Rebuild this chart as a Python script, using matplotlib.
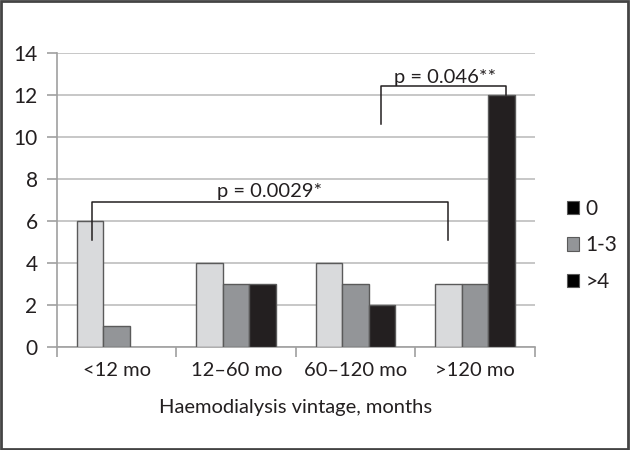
import matplotlib
matplotlib.use('Agg')
import matplotlib.pyplot as plt
import matplotlib.patches as mpatches
import numpy as np

categories = ['<12 mo', '12\u201360 mo', '60\u2013120 mo', '>120 mo']
series_names = ['0', '1-3', '>4']
vals_0 = [6, 4, 4, 3]
vals_13 = [1, 3, 3, 3]
vals_4 = [0, 3, 2, 12]

colors = ['#d9dadc', '#939598', '#231f20']
legend_colors = ['#000000', '#939598', '#000000']

plt.rcParams['font.family'] = ['Lato', 'DejaVu Sans']

fig = plt.figure(figsize=(6.3, 4.5), dpi=100)
ax = fig.add_axes([0.0905, 0.229, 0.7585, 0.653])

x = np.arange(len(categories))
w = 0.222
for i, (vals, c) in enumerate(zip([vals_0, vals_13, vals_4], colors)):
    v = np.array(vals, dtype=float)
    mask = v > 0
    ax.bar(x[mask] + (i - 1) * w, v[mask], width=w, color=c,
           edgecolor='#5a5a5a', linewidth=1.0, zorder=3)

ax.set_xlim(-0.5, 3.5)
ax.set_ylim(0, 14)
ax.set_yticks(range(0, 15, 2))
ax.yaxis.grid(True, color='#bdbdbd', linewidth=1.2, zorder=0)
ax.set_axisbelow(True)

ax.set_xticks(np.arange(-0.5, 4, 1))
ax.set_xticklabels([])
ax.set_xticks(x, minor=True)
ax.set_xticklabels(categories, minor=True)
ax.tick_params(axis='x', which='minor', length=0, pad=11, labelsize=14.5, labelcolor='#231f20')
ax.tick_params(axis='x', which='major', length=7, color='#a0a0a0', width=1.2)
ax.tick_params(axis='y', length=7, color='#a0a0a0', width=1.2, labelsize=15, labelcolor='#231f20', pad=7)

for s in ['top', 'right']:
    ax.spines[s].set_visible(False)
for s in ['left', 'bottom']:
    ax.spines[s].set_color('#a0a0a0')
    ax.spines[s].set_linewidth(1.2)

ax.set_xlabel('Haemodialysis vintage, months', fontsize=14.5, color='#231f20', labelpad=14)

# significance brackets
lc = '#231f20'
ax.plot([-0.21, -0.21, 2.77, 2.77], [5.1, 6.9, 6.9, 5.1], color=lc, lw=1.1, zorder=4)
ax.text(1.28, 7.0, 'p = 0.0029*', ha='center', va='bottom', fontsize=14.5, color=lc)
ax.plot([2.21, 2.21, 3.26, 3.26], [10.6, 12.45, 12.45, 12.0], color=lc, lw=1.1, zorder=4)
ax.text(2.75, 12.45, 'p = 0.046**', ha='center', va='bottom', fontsize=14.5, color=lc)

handles = [mpatches.Patch(facecolor=c, edgecolor='#5a5a5a', linewidth=0.8) for c in legend_colors]
fig.legend(handles, series_names, loc='center left', bbox_to_anchor=(0.87, 0.455),
           frameon=False, fontsize=15, handlelength=0.6, handleheight=0.6,
           handletextpad=0.3, labelspacing=0.8, labelcolor='#231f20')

fig.patches.append(mpatches.Rectangle((0.002, 0.003), 0.995, 0.994, transform=fig.transFigure,
                                      fill=False, edgecolor='#444444', linewidth=2))

fig.savefig('out.png', dpi=100)
